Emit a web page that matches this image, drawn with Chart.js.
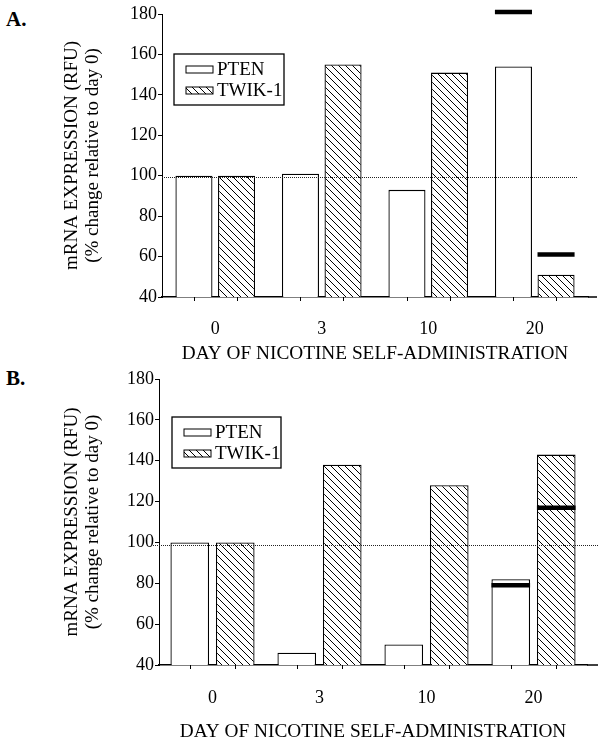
<!DOCTYPE html>
<html>
<head>
<meta charset="utf-8">
<script src="https://cdn.jsdelivr.net/npm/chart.js@4.4.0/dist/chart.umd.min.js"></script>
<style>
  body { margin: 0; background: #fff; }
  .panneau { position: absolute; left: 0; }
  .lettre { position: absolute; left: 6px; font: bold 21px "Liberation Serif", serif; line-height: 21px; color: #000; }
</style>
</head>
<body>
<div class="lettre" style="top:9px">A.</div>
<canvas id="chartA" class="panneau" style="top:0" width="602" height="366"></canvas>
<div class="lettre" style="top:368px">B.</div>
<canvas id="chartB" class="panneau" style="top:366px" width="602" height="381"></canvas>
<script>
// Données
const jours = ['0', '3', '10', '20'];

const ptenA = [100, 101, 93, 154];
const twikA = [100, 155, 151, 51];
const marquePtenA = [null, null, null, 181];
const marqueTwikA = [null, null, null, 61];

const ptenB = [100, 46, 50, 82];
const twikB = [100, 138, 128, 143];
const marquePtenB = [null, null, null, 79];
const marqueTwikB = [null, null, null, 117];

const titreY = ['mRNA EXPRESSION (RFU)', '(% change relative to day 0)'];
const titreX = 'DAY OF NICOTINE SELF-ADMINISTRATION';
const police = '"Liberation Serif", "Times New Roman", serif';

function motifHachures(ctx) {
  const s = 7;
  const c = document.createElement('canvas');
  c.width = s; c.height = s;
  const g = c.getContext('2d');
  g.fillStyle = '#fff';
  g.fillRect(0, 0, s, s);
  g.strokeStyle = '#000';
  g.lineWidth = 1;
  g.beginPath();
  g.moveTo(0, 0); g.lineTo(s, s);
  g.moveTo(-1, s - 1); g.lineTo(1, s + 1);
  g.moveTo(s - 1, -1); g.lineTo(s + 1, 1);
  g.stroke();
  return ctx.createPattern(c, 'repeat');
}

// Ligne pointillée, prolongement de l'axe x, petits traits sous les barres
const decorPlugin = {
  id: 'decor',
  afterDatasetsDraw(chart, args, opts) {
    const { ctx, chartArea, scales } = chart;
    const y = Math.round(scales.y.getPixelForValue(opts.ref)) + 0.5;
    ctx.save();
    ctx.strokeStyle = '#222';
    ctx.lineWidth = 1;
    ctx.setLineDash([1, 1]);
    ctx.beginPath();
    ctx.moveTo(chartArea.left + opts.refDebut, y);
    ctx.lineTo(chartArea.right + opts.refFin, y);
    ctx.stroke();
    ctx.restore();
  },
  afterDraw(chart, args, opts) {
    const { ctx, chartArea } = chart;
    ctx.save();
    ctx.strokeStyle = '#000';
    ctx.lineWidth = 1.5;
    ctx.beginPath();
    ctx.moveTo(chartArea.right, chartArea.bottom);
    ctx.lineTo(chartArea.right + opts.axeFin, chartArea.bottom);
    ctx.stroke();
    ctx.lineWidth = 1;
    ctx.beginPath();
    [2, 3].forEach(i => {
      chart.getDatasetMeta(i).data.forEach(barre => {
        const x = Math.round(barre.x) + 0.5;
        ctx.moveTo(x, chartArea.bottom);
        ctx.lineTo(x, chartArea.bottom + 4);
      });
    });
    ctx.stroke();
    ctx.restore();
  }
};

// Légende encadrée à l'intérieur du graphique
const legendePlugin = {
  id: 'legendeBoite',
  afterDraw(chart, args, opts) {
    const { ctx, chartArea } = chart;
    const x0 = chartArea.left + opts.dx;
    const y0 = chartArea.top + opts.dy;
    ctx.save();
    ctx.strokeStyle = '#000';
    ctx.lineWidth = 1.3;
    ctx.fillStyle = '#fff';
    ctx.fillRect(x0, y0, opts.largeur, 51);
    ctx.strokeRect(x0, y0, opts.largeur, 51);
    [2, 3].forEach((i, rang) => {
      const ds = chart.data.datasets[i];
      const ys = y0 + 12 + rang * 21;
      ctx.fillStyle = ds.backgroundColor;
      ctx.fillRect(x0 + 12, ys, 27, 7);
      ctx.lineWidth = 1;
      ctx.strokeRect(x0 + 12, ys, 27, 7);
      ctx.fillStyle = '#000';
      ctx.font = '19px ' + police;
      ctx.textBaseline = 'middle';
      ctx.fillText(ds.label, x0 + 43, ys + 4);
    });
    ctx.restore();
  }
};

function dessinerGraphique(id, pten, twik, marquePten, marqueTwik, r) {
  const ctx = document.getElementById(id).getContext('2d');
  const hachures = motifHachures(ctx);
  const marque = v => (v === null ? null : [v - 1.1, v + 1.1]);
  return new Chart(ctx, {
    type: 'bar',
    data: {
      labels: jours,
      datasets: [
        { label: 'marque PTEN', data: marquePten.map(marque), stack: 'pten', backgroundColor: '#000', borderWidth: 0, order: 0, clip: false },
        { label: 'marque TWIK-1', data: marqueTwik.map(marque), stack: 'twik', backgroundColor: '#000', borderWidth: 0, order: 0, clip: false },
        { label: 'PTEN', data: pten, stack: 'pten', backgroundColor: '#fff', borderColor: '#000', borderWidth: 1.3, order: 1 },
        { label: 'TWIK-1', data: twik, stack: 'twik', backgroundColor: hachures, borderColor: '#000', borderWidth: 1.3, order: 1 }
      ]
    },
    options: {
      responsive: false,
      animation: false,
      layout: { padding: { top: r.haut, right: r.droite, bottom: 0, left: 0 } },
      datasets: { bar: { categoryPercentage: r.catPct, barPercentage: r.barPct } },
      plugins: {
        legend: { display: false },
        tooltip: { enabled: false },
        decor: { ref: r.ref, refDebut: r.refDebut, refFin: r.refFin, axeFin: r.axeFin },
        legendeBoite: { dx: r.legDx, dy: r.legDy, largeur: r.legLargeur }
      },
      scales: {
        x: {
          offset: true,
          grid: { display: false },
          border: { display: true, color: '#000', width: 1.5 },
          ticks: { color: '#000', font: { family: police, size: 18 }, padding: r.padTicks },
          title: { display: true, text: titreX, color: '#000', font: { family: police, size: 19.3 }, padding: { top: 0, bottom: r.padTitre } },
          afterFit: s => { s.height = r.hauteurX; }
        },
        y: {
          min: 40,
          max: 180,
          stacked: false,
          ticks: { stepSize: 20, color: '#000', font: { family: police, size: 18 }, padding: 1 },
          grid: { display: true, drawOnChartArea: false, drawTicks: true, tickLength: 4, color: '#000' },
          border: { display: true, color: '#000', width: 1 },
          title: { display: true, text: titreY, color: '#000', font: { family: police, size: 19, lineHeight: 1.1 }, padding: { top: 62, bottom: 0 } },
          afterFit: s => { s.width = r.gauche; }
        }
      }
    },
    plugins: [decorPlugin, legendePlugin]
  });
}

dessinerGraphique('chartA', ptenA, twikA, marquePtenA, marqueTwikA, {
  haut: 14, droite: 14, gauche: 162, hauteurX: 69, padTicks: 13, padTitre: 0,
  catPct: 0.8, barPct: 0.87, ref: 99.5, refDebut: 0, refFin: -11, axeFin: 9,
  legDx: 12, legDy: 40, legLargeur: 110
});

dessinerGraphique('chartB', ptenB, twikB, marquePtenB, marqueTwikB, {
  haut: 13, droite: 15, gauche: 159, hauteurX: 82, padTicks: 14, padTitre: 3,
  catPct: 0.85, barPct: 0.85, ref: 98.5, refDebut: -8, refFin: 11, axeFin: 11,
  legDx: 13, legDy: 38, legLargeur: 109
});
</script>
</body>
</html>
